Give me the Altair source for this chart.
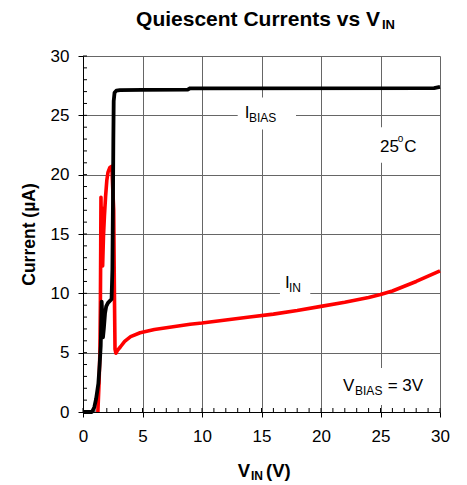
import altair as alt
import pandas as pd

# ---------------- data ----------------
ibias_v = [0, 0.75, 0.95, 1.1, 1.29, 1.4, 1.49, 1.53, 1.57, 1.62, 1.68, 1.75, 1.85, 1.95,
           2.1, 2.3, 2.4, 2.47, 2.52, 2.55, 2.58, 2.65, 2.8, 3.1, 5, 8.8, 9.0, 29.5, 30]
ibias_i = [0, 0, 0.4, 1.1, 2.4, 4.0, 5.6, 7.5, 9.3, 8.0, 6.3, 7.0, 8.3, 8.9,
           9.2, 9.4, 9.5, 12, 18, 23, 26.2, 26.9, 27.08, 27.13, 27.15, 27.17, 27.28, 27.3, 27.4]

iin_v = [1.25, 1.35, 1.42, 1.46, 1.49, 1.51, 1.54, 1.57, 1.61, 1.65, 1.72, 1.8, 1.9, 2.0,
         2.1, 2.25, 2.42, 2.58, 2.64, 2.69, 2.76, 2.9, 3.15, 3.5, 4.0, 4.8, 6, 7, 8, 9, 10,
         12, 14, 16, 18, 20, 22, 24, 25, 26, 27, 28, 29, 30]
iin_i = [0, 2.5, 5, 9, 14, 18.1, 15.5, 17.2, 13.5, 12.3, 14.8, 16.5, 18.2, 19.5,
         20.2, 20.6, 20.7, 17, 10, 5.3, 4.95, 5.2, 5.5, 5.95, 6.35, 6.68, 6.95, 7.1, 7.25, 7.4, 7.5,
         7.75, 8.0, 8.25, 8.55, 8.9, 9.25, 9.65, 9.9, 10.2, 10.6, 11.0, 11.45, 11.9]

x_ticks = [0, 5, 10, 15, 20, 25, 30]
y_ticks = [0, 5, 10, 15, 20, 25, 30]
minor_ticks = list(range(0, 31))

# annotation pieces (text, V, I, font size)
ann_text = ["I", "BIAS", "25", "o", "C", "I", "IN", "V", "BIAS", "= 3V"]
ann_v = [13.6, 13.95, 24.96, 26.45, 27.0, 16.97, 17.31, 21.85, 22.86, 25.6]
ann_i = [24.77, 24.44, 21.9, 22.75, 21.9, 10.45, 10.11, 1.8, 1.45, 1.8]
ann_size = [17, 12, 17, 10, 17, 17, 12, 17, 12, 17]

# white label backgrounds (V1, V2, I1, I2)
box_v1 = [13.0, 24.5, 16.55, 21.6]
box_v2 = [17.9, 28.7, 19.1, 29.6]
box_i1 = [23.8, 21.0, 9.8, 0.6]
box_i2 = [26.5, 24.0, 11.8, 3.7]

FONT = "Liberation Sans"
W, H = 357, 356

df_b = pd.DataFrame({"v": ibias_v, "i": ibias_i, "o": range(len(ibias_v))})
df_r = pd.DataFrame({"v": iin_v, "i": iin_i, "o": range(len(iin_v))})
df_m = pd.DataFrame({"m": minor_ticks})
df_ann = pd.DataFrame({"t": ann_text, "v": ann_v, "i": ann_i, "s": ann_size})
df_box = pd.DataFrame({"v1": box_v1, "v2": box_v2, "i1": box_i1, "i2": box_i2})
one = pd.DataFrame({"k": [0]})

xs = alt.Scale(domain=[0, 30], nice=False, zero=False)
ys = alt.Scale(domain=[0, 30], nice=False, zero=False)

GRID = "#666666"
AX = alt.Axis(
    values=x_ticks, title=None, grid=True, gridColor=GRID, gridWidth=1,
    domainColor="black", tickColor="black", tickSize=5, labelPadding=11,
    labelFont=FONT, labelFontSize=17, labelColor="black", labelFlush=False)
AY = alt.Axis(
    values=y_ticks, title="Current (µA)", grid=True, gridColor=GRID, gridWidth=1,
    domainColor="black", tickColor="black", tickSize=5, labelPadding=9,
    labelFont=FONT, labelFontSize=17, labelColor="black", labelFlush=False,
    titleFont=FONT, titleFontSize=17.5, titleFontWeight="bold", titleColor="black",
    titlePadding=12)


def X(f):
    return alt.X(f, scale=xs, axis=AX)


def Y(f):
    return alt.Y(f, scale=ys, axis=AY)


black = alt.Chart(df_b).mark_line(color="black", strokeWidth=3.8, strokeJoin="round").encode(
    x=X("v:Q"), y=Y("i:Q"), order="o:Q")

boxes = alt.Chart(df_box).mark_rect(color="white").encode(
    x=X("v1:Q"), x2="v2", y=Y("i1:Q"), y2="i2")

minor_x = alt.Chart(df_m).mark_rule(color="black", strokeWidth=1).encode(
    x=X("m:Q"), y=alt.value(H), y2=alt.value(H - 4))
minor_y = alt.Chart(df_m).mark_rule(color="black", strokeWidth=1).encode(
    y=Y("m:Q"), x=alt.value(0), x2=alt.value(4))

red = alt.Chart(df_r).mark_line(color="#FF0000", strokeWidth=3.6, strokeJoin="round").encode(
    x=X("v:Q"), y=Y("i:Q"), order="o:Q")

ann = alt.Chart(df_ann).mark_text(align="left", baseline="alphabetic", font=FONT,
                                  color="black").encode(
    x=X("v:Q"), y=Y("i:Q"),
    text="t:N", size=alt.Size("s:Q", scale=None, legend=None))


def ptext(txt, px, py, size, align):
    return alt.Chart(one).mark_text(align=align, baseline="alphabetic", font=FONT,
                                    fontWeight="bold", fontSize=size, color="black").encode(
        x=alt.value(px), y=alt.value(py), text=alt.value(txt))


titles = [
    ptext("Quiescent Currents vs V", 297, -30, 21, "right"),
    ptext("IN", 299, -27.5, 13, "left"),
    ptext("V", 167, 421, 18.5, "right"),
    ptext("IN", 168, 423.5, 12, "left"),
    ptext("(V)", 183, 421, 18.5, "left"),
]

chart = alt.layer(boxes, minor_x, minor_y, red, black, ann, *titles).properties(
    width=W, height=H,
    autosize=alt.AutoSizeParams(type="none"),
    padding={"left": 83, "top": 56, "right": 27, "bottom": 73},
    background="white",
).configure_view(stroke=None)

chart.save("out.html", embed_options={"renderer": "svg", "actions": False})
